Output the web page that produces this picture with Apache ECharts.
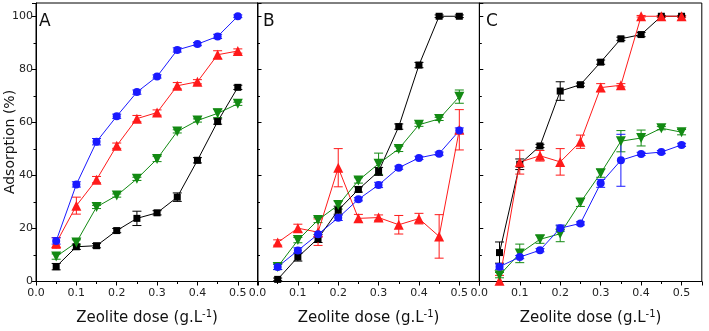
<!DOCTYPE html>
<html><head><meta charset="utf-8">
<script src="https://cdn.jsdelivr.net/npm/echarts@6/dist/echarts.min.js"></script>
<style>html,body{margin:0;padding:0;background:#fff}#c{width:709px;height:331px}</style>
</head><body><div id="c"></div>
<script>
const doses = [0.05, 0.1, 0.15, 0.2, 0.25, 0.3, 0.35, 0.4, 0.45, 0.5];
const xTickLabels = ['0.0', '0.1', '0.2', '0.3', '0.4', '0.5'];
const yTickLabels = ['0', '20', '40', '60', '80', '100'];
const panelLabels = ['A', 'B', 'C'];
const xTitle = 'Zeolite dose (g.L';
const xTitleSup = '-1';
const yTitle = 'Adsorption (%)';

// Panel A
const A_black = [5.6, 13.1, 13.5, 19.2, 23.8, 25.9, 31.8, 45.7, 60.3, 73.2];
const A_black_err = [1.2, 1, 0.8, 0.8, 2.7, 0.8, 1.6, 1, 1, 0.8];
const A_red = [14.5, 28.6, 38.4, 51.2, 61.4, 63.7, 73.8, 75.3, 85.5, 86.9];
const A_red_err = [2, 3.2, 1.2, 1, 1.2, 1, 1.2, 0.8, 1.5, 0.8];
const A_blue = [15.3, 36.6, 52.7, 62.3, 71.4, 77.3, 87.3, 89.5, 92.4, 100];
const A_blue_err = [1.2, 1, 1.2, 0.8, 0.8, 0.6, 0.8, 0.6, 0.8, 0.5];
const A_green = [9.4, 14.7, 28.1, 32.4, 38.7, 46.2, 56.6, 60.7, 63.4, 67];
const A_green_err = [1, 1, 0.6, 0.6, 0.6, 1, 0.6, 0.6, 1.6, 0.6];

// Panel B
const B_black = [0.8, 9.2, 16.2, 26.9, 34.7, 41.5, 58.4, 81.6, 100, 100];
const B_black_err = [0.5, 1.5, 1.5, 1.5, 1, 1.5, 1, 1, 0.5, 0.5];
const B_red = [14.7, 20.1, 18.6, 42.9, 23.8, 24.1, 21.4, 23.7, 17, 57.2];
const B_red_err = [1, 1.5, 5, 7.2, 1.5, 1, 3.5, 2, 8.2, 7.6];
const B_blue = [5.5, 11.7, 17.8, 24, 31, 36.4, 42.9, 46.6, 48.2, 56.9];
const B_blue_err = [1, 1, 1, 1, 0.6, 1, 0.6, 0.6, 0.6, 1];
const B_green = [5.5, 15.6, 23.2, 28.8, 38.1, 44.4, 50, 59.1, 61.3, 69.7];
const B_green_err = [1, 1, 1, 1.5, 1, 4, 1, 0.6, 0.6, 2.5];

// Panel C
const C_black = [10.9, 44.2, 51.1, 71.8, 74.2, 82.7, 91.5, 93.1, 100, 100];
const C_black_err = [4, 2, 0.6, 3.5, 0.6, 0.8, 0.6, 0.8, 0.3, 0.3];
const C_red = [0.3, 45, 47.4, 45.1, 52.7, 73.1, 74, 100, 100, 100];
const C_red_err = [2, 4.5, 2, 5, 2.5, 1.5, 0.6, 0.3, 0.3, 0.3];
const C_blue = [5.6, 9.2, 11.8, 20.1, 21.9, 37, 45.7, 48.1, 48.8, 51.5];
const C_blue_err = [1, 0.6, 0.6, 1.2, 0.6, 1.5, 9.8, 0.6, 0.6, 0.6];
const C_green = [2.4, 10.6, 15.9, 18, 29.8, 40.8, 52.9, 54.1, 57.8, 56.3];
const C_green_err = [1, 3.5, 1.5, 3, 1.5, 1.5, 4, 3, 0.6, 1];

const panels = [
  {black: A_black, blackErr: A_black_err, red: A_red, redErr: A_red_err, blue: A_blue, blueErr: A_blue_err, green: A_green, greenErr: A_green_err},
  {black: B_black, blackErr: B_black_err, red: B_red, redErr: B_red_err, blue: B_blue, blueErr: B_blue_err, green: B_green, greenErr: B_green_err},
  {black: C_black, blackErr: C_black_err, red: C_red, redErr: C_red_err, blue: C_blue, blueErr: C_blue_err, green: C_green, greenErr: C_green_err}
];

const FONT = 'DejaVu Sans';
const styles = {
  black: {color: '#000000', symbol: 'rect', size: 7, rotate: 0},
  red: {color: '#ff1a1a', symbol: 'triangle', size: 10, rotate: 0},
  blue: {color: '#1a1aff', symbol: 'circle', size: 8, rotate: 0},
  green: {color: '#138a13', symbol: 'triangle', size: 10, rotate: 180}
};
const order = ['black', 'red', 'green', 'blue'];

const gridPos = [
  {left: 36, top: 3, width: 222, height: 288},
  {left: 257.5, top: 3, width: 222, height: 288},
  {left: 479.3, top: 3, width: 222.5, height: 288}
];

function xFmt(v) {
  const i = Math.round(v * 10);
  if (Math.abs(v * 10 - i) < 1e-6 && i >= 0 && i < xTickLabels.length) return xTickLabels[i];
  return '';
}
function yFmt(v) {
  const i = Math.round(v / 20);
  if (Math.abs(v / 20 - i) < 1e-6 && i >= 0 && i < yTickLabels.length) return yTickLabels[i];
  return '';
}

function renderErr(params, api) {
  const x = api.value(0), y = api.value(1), e = api.value(2);
  const hi = api.coord([x, y + e]), lo = api.coord([x, y - e]);
  const c = api.visual('color');
  const w = 4.5;
  const st = {stroke: c, lineWidth: 1, fill: null};
  return {type: 'group', children: [
    {type: 'line', shape: {x1: hi[0], y1: hi[1], x2: lo[0], y2: lo[1]}, style: st},
    {type: 'line', shape: {x1: hi[0] - w, y1: hi[1], x2: hi[0] + w, y2: hi[1]}, style: st},
    {type: 'line', shape: {x1: lo[0] - w, y1: lo[1], x2: lo[0] + w, y2: lo[1]}, style: st}
  ]};
}

const grid = gridPos.map(g => Object.assign({show: true, borderColor: '#000', borderWidth: 1, containLabel: false}, g));
const xAxis = [], yAxis = [], series = [];
panels.forEach((p, k) => {
  xAxis.push({
    type: 'value', gridIndex: k, min: 0, max: 0.55, interval: 0.1,
    name: '{a|' + xTitle + '}{s|' + xTitleSup + '}{a|)}',
    nameLocation: 'middle', nameGap: 28,
    nameTextStyle: {rich: {
      a: {fontFamily: FONT, fontSize: 15, color: '#111'},
      s: {fontFamily: FONT, fontSize: 10, color: '#111', padding: [0, 0, 8, 0]}
    }},
    axisLine: {show: true, lineStyle: {color: '#000', width: 1}},
    axisTick: {show: true, length: 4, lineStyle: {color: '#000'}},
    minorTick: {show: true, splitNumber: 2, length: 2.5, lineStyle: {color: '#000'}},
    splitLine: {show: false},
    axisLabel: {formatter: xFmt, fontFamily: FONT, fontSize: 11, color: '#222', margin: 6, showMaxLabel: false}
  });
  yAxis.push({
    type: 'value', gridIndex: k, min: 0, max: 105, interval: 20,
    axisLine: {show: true, lineStyle: {color: '#000', width: 1}},
    axisTick: {show: true, length: 4, inside: k > 0, lineStyle: {color: '#000'}},
    minorTick: {show: true, splitNumber: 2, length: 2.5, lineStyle: {color: '#000'}},
    splitLine: {show: false},
    axisLabel: {show: k === 0, formatter: yFmt, fontFamily: FONT, fontSize: 11, color: '#222', margin: 3, showMaxLabel: false}
  });
  order.forEach(name => {
    const s = styles[name];
    const vals = p[name], errs = p[name + 'Err'];
    series.push({
      type: 'custom', xAxisIndex: k, yAxisIndex: k, renderItem: renderErr, clip: true, z: 1,
      itemStyle: {color: s.color},
      encode: {x: 0, y: 1},
      data: doses.map((d, i) => [d, vals[i], errs[i]])
    });
  });
  order.forEach(name => {
    const s = styles[name];
    const vals = p[name];
    series.push({
      type: 'line', xAxisIndex: k, yAxisIndex: k, z: 3,
      symbol: s.symbol, symbolSize: s.size, symbolRotate: s.rotate,
      itemStyle: {color: s.color},
      lineStyle: {color: s.color, width: 1},
      data: doses.map((d, i) => [d, vals[i]])
    });
  });
});

const graphic = [
  {type: 'text', left: 39, top: 13, style: {text: panelLabels[0], font: '17px "DejaVu Sans"', fill: '#111'}},
  {type: 'text', left: 263, top: 13, style: {text: panelLabels[1], font: '17px "DejaVu Sans"', fill: '#111'}},
  {type: 'text', left: 486, top: 13, style: {text: panelLabels[2], font: '17px "DejaVu Sans"', fill: '#111'}},
  {type: 'text', x: 10, y: 142, rotation: Math.PI / 2,
   style: {text: yTitle, font: '14px "DejaVu Sans"', fill: '#111', textAlign: 'center', textVerticalAlign: 'middle'}}
];

const chart = echarts.init(document.getElementById('c'), null, {renderer: 'canvas'});
chart.setOption({animation: false, backgroundColor: '#fff', grid, xAxis, yAxis, series, graphic});
</script>
</body></html>
